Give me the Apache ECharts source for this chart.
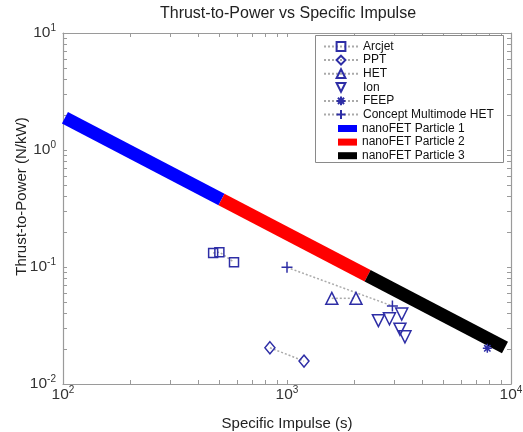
<!DOCTYPE html>
<html>
<head>
<meta charset="utf-8">
<script src="https://cdn.jsdelivr.net/npm/echarts@6/dist/echarts.min.js"></script>
<style>html,body{margin:0;padding:0;background:#fff}#c{width:523px;height:432px}</style>
</head>
<body>
<div id="c"></div>
<script>
// ---- data ----
var arcjetIsp = [468, 499, 580];
var arcjetTP  = [0.132, 0.134, 0.110];
var pptIsp = [839, 1191];
var pptTP  = [0.0204, 0.0157];
var hetIsp = [1585, 2032];
var hetTP  = [0.054, 0.054];
var ionIsp = [2559, 2866, 3252, 3193, 3362];
var ionTP  = [0.0348, 0.0361, 0.0396, 0.0294, 0.0253];
var feepIsp = [7840];
var feepTP  = [0.0202];
var cmhIsp = [1000, 2955];
var cmhTP  = [0.0993, 0.0464];
var nano1Isp = [102, 510];
var nano1TP  = [1.89, 0.378];
var nano2Isp = [510, 2290];
var nano2TP  = [0.378, 0.0843];
var nano3Isp = [2290, 9400];
var nano3TP  = [0.0843, 0.0205];
var xTicks = [100,200,300,400,500,600,700,800,900,1000,2000,3000,4000,5000,6000,7000,8000,9000,10000];
var yTicks = [0.01,0.02,0.03,0.04,0.05,0.06,0.07,0.08,0.09,0.1,0.2,0.3,0.4,0.5,0.6,0.7,0.8,0.9,1,2,3,4,5,6,7,8,9,10];

function pts(a, b) { return a.map(function (v, i) { return [v, b[i]]; }); }

var MC = '#2e2ea6';
var dotted = { color: '#aaaaaa', width: 1.5, type: [2, 2] };
var hollow = { color: 'rgba(0,0,0,0)', borderColor: MC, borderWidth: 1.5 };
var frame = '#9a9a9a';
var FF = 'Liberation Sans';

function pow10(v) {
  var e = Math.round(Math.log(v) / Math.LN10);
  return '{b|10}{e|' + e + '}';
}
var rich = {
  b: { fontSize: 15.5, color: '#333', fontFamily: FF },
  e: { fontSize: 10, color: '#333', fontFamily: FF, verticalAlign: 'top', padding: [0, 0, 9, 0] }
};

function markerSeries(name, isp, tp, symbol, size, extra) {
  var s = {
    name: name, type: 'line', data: pts(isp, tp),
    symbol: symbol, symbolSize: size, showAllSymbol: true,
    lineStyle: dotted, itemStyle: hollow, z: 3,
    emphasis: { disabled: true }, animation: false
  };
  for (var k in extra) s[k] = extra[k];
  return s;
}
function nanoSeries(name, isp, tp, color) {
  return {
    name: name, type: 'line', data: pts(isp, tp), symbol: 'none',
    lineStyle: { color: color, width: 13, cap: 'butt' },
    itemStyle: { color: color }, z: 2, emphasis: { disabled: true }, animation: false
  };
}

var chart = echarts.init(document.getElementById('c'));
chart.setOption({
  animation: false,
  backgroundColor: '#fff',
  title: {
    text: 'Thrust-to-Power vs Specific Impulse', left: 283, top: 1, textAlign: 'center',
    textStyle: { fontSize: 16, fontWeight: 'normal', color: '#222', fontFamily: FF }
  },
  grid: { left: 63, right: 12, top: 33, bottom: 48, containLabel: false, outerBoundsMode: 'none' },
  xAxis: [{
    type: 'log', logBase: 10, min: 100, max: 10000,
    name: 'Specific Impulse (s)', nameLocation: 'middle', nameGap: 32.5, nameMoveOverlap: false,
    nameTextStyle: { fontSize: 15, color: '#222', fontFamily: FF },
    axisLine: { lineStyle: { color: frame, width: 1.2 } },
    axisTick: { inside: true, length: 4, customValues: xTicks, lineStyle: { color: frame } },
    axisLabel: { formatter: pow10, rich: rich, margin: 1 },
    splitLine: { show: false }
  }, {
    type: 'log', logBase: 10, min: 100, max: 10000, position: 'top',
    axisLine: { lineStyle: { color: frame, width: 1.2 } },
    axisTick: { inside: true, length: 4, customValues: xTicks, lineStyle: { color: frame } },
    axisLabel: { show: false }, splitLine: { show: false }
  }],
  yAxis: [{
    type: 'log', logBase: 10, min: 0.01, max: 10,
    name: '{s|}{t|Thrust-to-Power (N/kW)}', nameLocation: 'middle', nameGap: 34, nameMoveOverlap: false,
    nameTextStyle: { fontSize: 15, color: '#222', fontFamily: FF,
      rich: { t: { fontSize: 15, color: '#222', fontFamily: FF }, s: { width: 24 } } },
    axisLine: { show: true, lineStyle: { color: frame, width: 1.2 } },
    axisTick: { inside: true, length: 4, customValues: yTicks, lineStyle: { color: frame } },
    axisLabel: { formatter: pow10, rich: rich, margin: 7 },
    splitLine: { show: false }
  }, {
    type: 'log', logBase: 10, min: 0.01, max: 10, position: 'right',
    axisLine: { show: true, lineStyle: { color: frame, width: 1.2 } },
    axisTick: { inside: true, length: 4, customValues: yTicks, lineStyle: { color: frame } },
    axisLabel: { show: false }, splitLine: { show: false }
  }],
  graphic: [{
    type: 'rect', left: 315, top: 35, z: 3,
    shape: { width: 188, height: 127 },
    style: { fill: '#fff', stroke: '#8a8a8a', lineWidth: 1 }
  }],
  legend: [{
    left: 323, top: 40.5, padding: 0, orient: 'vertical', itemWidth: 34, itemHeight: 11, itemGap: 1.6,
    data: ['Arcjet', 'PPT', 'HET', 'Ion', 'FEEP', 'Concept Multimode HET'],
    textStyle: { fontSize: 12, color: '#111', fontFamily: FF },
    z: 4
  }, {
    left: 338, top: 122.5, padding: 0, orient: 'vertical', itemWidth: 19, itemHeight: 7, itemGap: 1.6, icon: 'rect',
    data: ['nanoFET Particle 1', 'nanoFET Particle 2', 'nanoFET Particle 3'],
    textStyle: { fontSize: 12, color: '#111', fontFamily: FF },
    z: 4
  }],
  series: [
    markerSeries('Arcjet', arcjetIsp, arcjetTP, 'rect', 9, {}),
    markerSeries('PPT', pptIsp, pptTP, 'diamond', [10, 12], {}),
    markerSeries('HET', hetIsp, hetTP, 'triangle', 12, {}),
    markerSeries('Ion', ionIsp, ionTP, 'triangle', 12, { symbolRotate: 180, lineStyle: { opacity: 0, width: 0 } }),
    markerSeries('FEEP', feepIsp, feepTP, 'path://M5,0 L5,10 M0,5 L10,5 M1.5,1.5 L8.5,8.5 M8.5,1.5 L1.5,8.5', 9, {}),
    markerSeries('Concept Multimode HET', cmhIsp, cmhTP, 'path://M5,0 L5,10 M0,5 L10,5', 11, {}),
    nanoSeries('nanoFET Particle 1', nano1Isp, nano1TP, '#0000ff'),
    nanoSeries('nanoFET Particle 2', nano2Isp, nano2TP, '#ff0000'),
    nanoSeries('nanoFET Particle 3', nano3Isp, nano3TP, '#000000')
  ]
});
</script>
</body>
</html>
